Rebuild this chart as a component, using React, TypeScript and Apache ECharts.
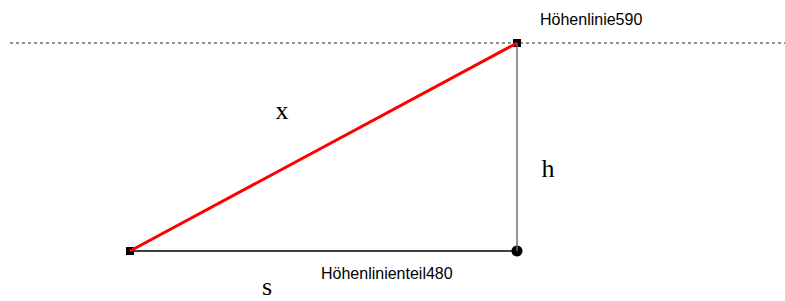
import React, { useEffect, useRef } from "react";
import * as echarts from "echarts";

// Diagram coordinates (pixel-like units, y grows downward)
const pointA = [130, 251];
const pointB = [517, 43];
const pointC = [517, 251];
const contourLine = [[10, 43], [785, 43]];
const sansLabels = [
  { name: "Höhenlinie590", pos: [540, 19] },
  { name: "Höhenlinienteil480", pos: [321, 273] },
];
const serifLabels = [
  { name: "x", pos: [282, 110] },
  { name: "h", pos: [548, 168] },
  { name: "s", pos: [267, 286] },
];

export default function App() {
  const ref = useRef<HTMLDivElement>(null);
  useEffect(() => {
    const chart = echarts.init(ref.current!, undefined, { renderer: "svg" });
    chart.setOption({
      animation: false,
      backgroundColor: "#ffffff",
      grid: { left: 0, right: 0, top: 0, bottom: 0 },
      xAxis: { type: "value", min: 0, max: 785, show: false },
      yAxis: { type: "value", min: 0, max: 301, inverse: true, show: false },
      series: [
        {
          type: "line",
          data: contourLine,
          symbol: "none",
          lineStyle: { color: "#222222", width: 1, type: [3, 3] },
        },
        {
          type: "line",
          data: [pointA, pointC],
          symbol: "none",
          lineStyle: { color: "#000000", width: 1.5 },
        },
        {
          type: "line",
          data: [pointB, pointC],
          symbol: "none",
          lineStyle: { color: "#707070", width: 1.5 },
        },
        {
          type: "line",
          data: [pointA, pointB],
          symbol: "none",
          lineStyle: { color: "#ff0000", width: 3 },
        },
        {
          type: "scatter",
          data: [pointA, pointB],
          symbol: "rect",
          symbolSize: 8,
          itemStyle: { color: "#000000", opacity: 1 },
        },
        {
          type: "scatter",
          data: [pointC],
          symbol: "circle",
          symbolSize: 11,
          itemStyle: { color: "#000000", opacity: 1 },
        },
        {
          type: "scatter",
          symbolSize: 0,
          itemStyle: { opacity: 1 },
          data: sansLabels.map((l) => ({ name: l.name, value: l.pos })),
          label: {
            show: true,
            position: "right",
            distance: 0,
            formatter: "{b}",
            color: "#000000",
            fontFamily: "Liberation Sans, Arial, sans-serif",
            fontSize: 16,
          },
        },
        {
          type: "scatter",
          symbolSize: 0,
          itemStyle: { opacity: 1 },
          data: serifLabels.map((l) => ({ name: l.name, value: l.pos })),
          label: {
            show: true,
            position: "inside",
            formatter: "{b}",
            color: "#000000",
            fontFamily: "Liberation Serif, Times New Roman, serif",
            fontSize: 26,
            lineHeight: 20,
          },
        },
      ],
    });
    return () => chart.dispose();
  }, []);
  return (
    <div
      ref={ref}
      style={{ position: "fixed", left: 0, top: 0, width: 785, height: 301 }}
    />
  );
}
